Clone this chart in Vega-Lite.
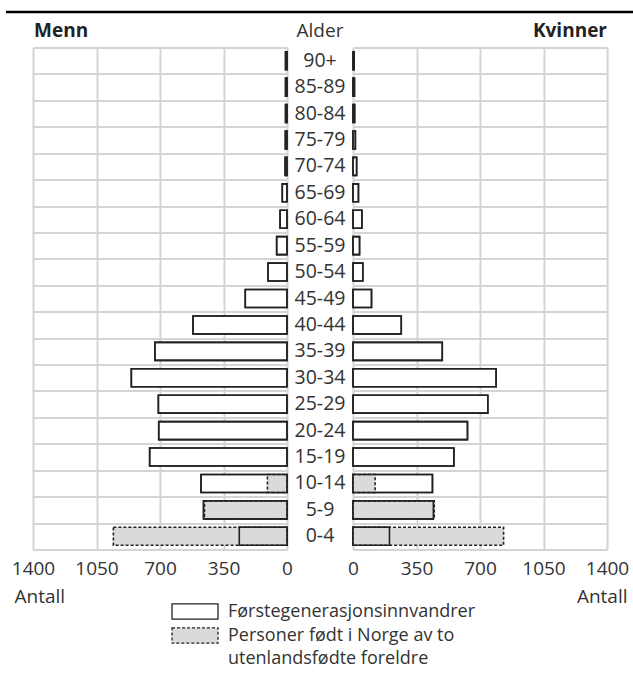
{
  "$schema": "https://vega.github.io/schema/vega-lite/v6.json",
  "padding": {"left": 4, "top": 10, "right": 0, "bottom": 0},
  "background": "white",
  "config": {
    "font": "Open Sans",
    "view": {"stroke": null},
    "title": {"fontSize": 19, "fontWeight": "bold", "color": "#222", "baseline": "alphabetic", "offset": 7, "frame": "group"},
    "axis": {
      "labelFontSize": 19, "labelColor": "#333", "labelFlush": false, "format": "d",
      "titleFontSize": 19, "titleFontWeight": "normal", "titleColor": "#333",
      "gridColor": "#d4d4d4", "gridWidth": 2, "domain": false, "ticks": false, "tickSize": 0
    }
  },
  "datasets": {
    "pyramide": [
      {"alder": "90+", "kjonn": "Menn", "gruppe": "Førstegenerasjonsinnvandrer", "antall": 8},
      {"alder": "85-89", "kjonn": "Menn", "gruppe": "Førstegenerasjonsinnvandrer", "antall": 8},
      {"alder": "80-84", "kjonn": "Menn", "gruppe": "Førstegenerasjonsinnvandrer", "antall": 8},
      {"alder": "75-79", "kjonn": "Menn", "gruppe": "Førstegenerasjonsinnvandrer", "antall": 9},
      {"alder": "70-74", "kjonn": "Menn", "gruppe": "Førstegenerasjonsinnvandrer", "antall": 10},
      {"alder": "65-69", "kjonn": "Menn", "gruppe": "Førstegenerasjonsinnvandrer", "antall": 26},
      {"alder": "60-64", "kjonn": "Menn", "gruppe": "Førstegenerasjonsinnvandrer", "antall": 38},
      {"alder": "55-59", "kjonn": "Menn", "gruppe": "Førstegenerasjonsinnvandrer", "antall": 57},
      {"alder": "50-54", "kjonn": "Menn", "gruppe": "Førstegenerasjonsinnvandrer", "antall": 105},
      {"alder": "45-49", "kjonn": "Menn", "gruppe": "Førstegenerasjonsinnvandrer", "antall": 230},
      {"alder": "40-44", "kjonn": "Menn", "gruppe": "Førstegenerasjonsinnvandrer", "antall": 518},
      {"alder": "35-39", "kjonn": "Menn", "gruppe": "Førstegenerasjonsinnvandrer", "antall": 728},
      {"alder": "30-34", "kjonn": "Menn", "gruppe": "Førstegenerasjonsinnvandrer", "antall": 858},
      {"alder": "25-29", "kjonn": "Menn", "gruppe": "Førstegenerasjonsinnvandrer", "antall": 709},
      {"alder": "20-24", "kjonn": "Menn", "gruppe": "Førstegenerasjonsinnvandrer", "antall": 707},
      {"alder": "15-19", "kjonn": "Menn", "gruppe": "Førstegenerasjonsinnvandrer", "antall": 757},
      {"alder": "10-14", "kjonn": "Menn", "gruppe": "Førstegenerasjonsinnvandrer", "antall": 474},
      {"alder": "5-9", "kjonn": "Menn", "gruppe": "Førstegenerasjonsinnvandrer", "antall": 460},
      {"alder": "0-4", "kjonn": "Menn", "gruppe": "Førstegenerasjonsinnvandrer", "antall": 263},
      {"alder": "90+", "kjonn": "Kvinner", "gruppe": "Førstegenerasjonsinnvandrer", "antall": 6},
      {"alder": "85-89", "kjonn": "Kvinner", "gruppe": "Førstegenerasjonsinnvandrer", "antall": 8},
      {"alder": "80-84", "kjonn": "Kvinner", "gruppe": "Førstegenerasjonsinnvandrer", "antall": 9},
      {"alder": "75-79", "kjonn": "Kvinner", "gruppe": "Førstegenerasjonsinnvandrer", "antall": 13},
      {"alder": "70-74", "kjonn": "Kvinner", "gruppe": "Førstegenerasjonsinnvandrer", "antall": 20},
      {"alder": "65-69", "kjonn": "Kvinner", "gruppe": "Førstegenerasjonsinnvandrer", "antall": 30},
      {"alder": "60-64", "kjonn": "Kvinner", "gruppe": "Førstegenerasjonsinnvandrer", "antall": 49},
      {"alder": "55-59", "kjonn": "Kvinner", "gruppe": "Førstegenerasjonsinnvandrer", "antall": 36},
      {"alder": "50-54", "kjonn": "Kvinner", "gruppe": "Førstegenerasjonsinnvandrer", "antall": 54},
      {"alder": "45-49", "kjonn": "Kvinner", "gruppe": "Førstegenerasjonsinnvandrer", "antall": 102},
      {"alder": "40-44", "kjonn": "Kvinner", "gruppe": "Førstegenerasjonsinnvandrer", "antall": 266},
      {"alder": "35-39", "kjonn": "Kvinner", "gruppe": "Førstegenerasjonsinnvandrer", "antall": 492},
      {"alder": "30-34", "kjonn": "Kvinner", "gruppe": "Førstegenerasjonsinnvandrer", "antall": 789},
      {"alder": "25-29", "kjonn": "Kvinner", "gruppe": "Førstegenerasjonsinnvandrer", "antall": 743},
      {"alder": "20-24", "kjonn": "Kvinner", "gruppe": "Førstegenerasjonsinnvandrer", "antall": 631},
      {"alder": "15-19", "kjonn": "Kvinner", "gruppe": "Førstegenerasjonsinnvandrer", "antall": 556},
      {"alder": "10-14", "kjonn": "Kvinner", "gruppe": "Førstegenerasjonsinnvandrer", "antall": 438},
      {"alder": "5-9", "kjonn": "Kvinner", "gruppe": "Førstegenerasjonsinnvandrer", "antall": 443},
      {"alder": "0-4", "kjonn": "Kvinner", "gruppe": "Førstegenerasjonsinnvandrer", "antall": 201},
      {"alder": "10-14", "kjonn": "Menn", "gruppe": "Personer født i Norge av to utenlandsfødte foreldre", "antall": 108},
      {"alder": "5-9", "kjonn": "Menn", "gruppe": "Personer født i Norge av to utenlandsfødte foreldre", "antall": 455},
      {"alder": "0-4", "kjonn": "Menn", "gruppe": "Personer født i Norge av to utenlandsfødte foreldre", "antall": 957},
      {"alder": "10-14", "kjonn": "Kvinner", "gruppe": "Personer født i Norge av to utenlandsfødte foreldre", "antall": 122},
      {"alder": "5-9", "kjonn": "Kvinner", "gruppe": "Personer født i Norge av to utenlandsfødte foreldre", "antall": 448},
      {"alder": "0-4", "kjonn": "Kvinner", "gruppe": "Personer født i Norge av to utenlandsfødte foreldre", "antall": 830}
    ]
  },
  "bounds": "flush",
  "spacing": 34.5,
  "resolve": {"scale": {"x": "independent", "y": "independent"}},
  "vconcat": [
    {
      "width": 574,
      "height": 1,
      "data": {"values": [{"fra": 0, "til": 1}]},
      "mark": {"type": "rule", "color": "#000", "strokeWidth": 2.5},
      "encoding": {
        "x": {"field": "fra", "type": "quantitative", "scale": {"domain": [0, 1], "range": [-27, 602]}, "axis": null},
        "x2": {"field": "til"},
        "y": {"value": 0}
      }
    },
    {
      "bounds": "flush",
      "spacing": 0,
      "resolve": {"scale": {"x": "independent", "y": "independent"}},
      "hconcat": [
        {
          "width": 254,
          "height": 502,
          "title": {"text": "Menn", "anchor": "start", "dx": 1},
          "data": {"name": "pyramide"},
          "transform": [{"filter": "datum.kjonn == 'Menn'"}],
          "layer": [
            {
              "mark": {"type": "bar", "height": {"band": 0.68}, "stroke": "#222", "strokeWidth": 1.6},
              "encoding": {
                "y": {
                  "field": "alder", "type": "nominal",
                  "scale": {"domain": ["90+", "85-89", "80-84", "75-79", "70-74", "65-69", "60-64", "55-59", "50-54", "45-49", "40-44", "35-39", "30-34", "25-29", "20-24", "15-19", "10-14", "5-9", "0-4"], "paddingInner": 0, "paddingOuter": 0},
                  "axis": {"labels": false, "grid": true, "tickBand": "extent", "title": null}
                },
                "x": {
                  "field": "antall", "type": "quantitative", "stack": null,
                  "scale": {"domain": [0, 1400], "reverse": true, "nice": false},
                  "axis": {"values": [0, 350, 700, 1050, 1400], "title": "Antall", "titleAlign": "left", "titleAnchor": null, "titleX": -19, "titleY": 53.4, "titleBaseline": "alphabetic", "labelPadding": 10, "labelBaseline": "top"}
                },
                "fill": {
                  "field": "gruppe", "type": "nominal",
                  "scale": {"domain": ["Førstegenerasjonsinnvandrer", "Personer født i Norge av to utenlandsfødte foreldre"], "range": ["#ffffff", "#dadada"]},
                  "legend": {"orient": "none", "legendX": 153, "legendY": 590.5, "title": null, "direction": "vertical", "symbolType": "M-3,-1H3V1H-3Z", "symbolSize": 235, "symbolStrokeColor": "#222", "symbolStrokeWidth": 1.3, "labelFontSize": 18, "labelColor": "#333", "labelOffset": 24, "rowPadding": 2, "labelLimit": 0, "labelExpr": "datum.label == 'Førstegenerasjonsinnvandrer' ? datum.label : ['Personer født i Norge av to', 'utenlandsfødte foreldre']", "encode": {"labels": {"update": {"lineHeight": {"value": 23}}}}}
                },
                "strokeDash": {
                  "field": "gruppe", "type": "nominal",
                  "scale": {"domain": ["Førstegenerasjonsinnvandrer", "Personer født i Norge av to utenlandsfødte foreldre"], "range": [[1, 0], [3, 2]]},
                  "legend": {"orient": "none", "legendX": 153, "legendY": 590.5, "title": null, "direction": "vertical", "symbolType": "M-3,-1H3V1H-3Z", "symbolSize": 235, "symbolStrokeColor": "#222", "symbolStrokeWidth": 1.3, "labelFontSize": 18, "labelColor": "#333", "labelOffset": 24, "rowPadding": 2, "labelLimit": 0, "labelExpr": "datum.label == 'Førstegenerasjonsinnvandrer' ? datum.label : ['Personer født i Norge av to', 'utenlandsfødte foreldre']", "encode": {"labels": {"update": {"lineHeight": {"value": 23}}}}}
                }
              }
            },
            {
              "transform": [{"filter": "datum.gruppe == 'Førstegenerasjonsinnvandrer'"}],
              "mark": {"type": "bar", "height": {"band": 0.68}, "fill": "transparent", "stroke": "#222", "strokeWidth": 1.6},
              "encoding": {
                "y": {"field": "alder", "type": "nominal"},
                "x": {"field": "antall", "type": "quantitative", "stack": null}
              }
            }
          ]
        },
        {
          "width": 66,
          "height": 502,
          "title": {"text": "Alder", "anchor": "middle", "fontWeight": "normal", "color": "#333"},
          "data": {"name": "pyramide"},
          "transform": [{"filter": "datum.kjonn == 'Menn' && datum.gruppe == 'Førstegenerasjonsinnvandrer'"}],
          "mark": {"type": "text", "fontSize": 19.5, "color": "#333"},
          "encoding": {
            "y": {
              "field": "alder", "type": "nominal",
              "scale": {"domain": ["90+", "85-89", "80-84", "75-79", "70-74", "65-69", "60-64", "55-59", "50-54", "45-49", "40-44", "35-39", "30-34", "25-29", "20-24", "15-19", "10-14", "5-9", "0-4"], "paddingInner": 0, "paddingOuter": 0},
              "axis": null
            },
            "text": {"field": "alder", "type": "nominal"}
          }
        },
        {
          "width": 254,
          "height": 502,
          "title": {"text": "Kvinner", "anchor": "end"},
          "data": {"name": "pyramide"},
          "transform": [{"filter": "datum.kjonn == 'Kvinner'"}],
          "layer": [
            {
              "mark": {"type": "bar", "height": {"band": 0.68}, "stroke": "#222", "strokeWidth": 1.6},
              "encoding": {
                "y": {
                  "field": "alder", "type": "nominal",
                  "scale": {"domain": ["90+", "85-89", "80-84", "75-79", "70-74", "65-69", "60-64", "55-59", "50-54", "45-49", "40-44", "35-39", "30-34", "25-29", "20-24", "15-19", "10-14", "5-9", "0-4"], "paddingInner": 0, "paddingOuter": 0},
                  "axis": {"labels": false, "grid": true, "tickBand": "extent", "title": null}
                },
                "x": {
                  "field": "antall", "type": "quantitative", "stack": null,
                  "scale": {"domain": [0, 1400], "nice": false},
                  "axis": {"values": [0, 350, 700, 1050, 1400], "title": "Antall", "titleAlign": "right", "titleAnchor": null, "titleX": 274, "titleY": 53.4, "titleBaseline": "alphabetic", "labelPadding": 10, "labelBaseline": "top"}
                },
                "fill": {
                  "field": "gruppe", "type": "nominal",
                  "scale": {"domain": ["Førstegenerasjonsinnvandrer", "Personer født i Norge av to utenlandsfødte foreldre"], "range": ["#ffffff", "#dadada"]}
                },
                "strokeDash": {
                  "field": "gruppe", "type": "nominal",
                  "scale": {"domain": ["Førstegenerasjonsinnvandrer", "Personer født i Norge av to utenlandsfødte foreldre"], "range": [[1, 0], [3, 2]]}
                }
              }
            },
            {
              "transform": [{"filter": "datum.gruppe == 'Førstegenerasjonsinnvandrer'"}],
              "mark": {"type": "bar", "height": {"band": 0.68}, "fill": "transparent", "stroke": "#222", "strokeWidth": 1.6},
              "encoding": {
                "y": {"field": "alder", "type": "nominal"},
                "x": {"field": "antall", "type": "quantitative", "stack": null}
              }
            }
          ]
        }
      ]
    }
  ]
}
